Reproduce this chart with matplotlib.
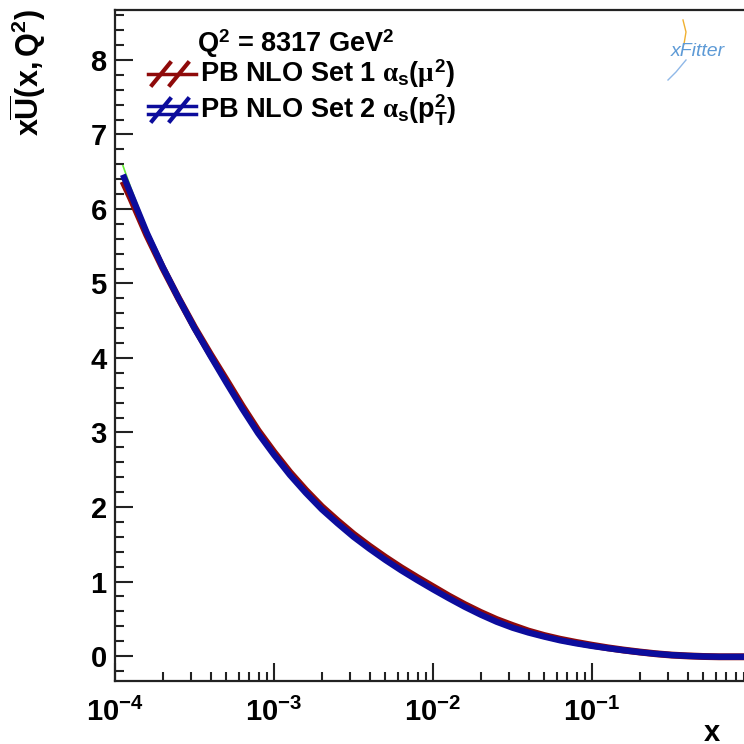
import matplotlib
matplotlib.use("Agg")
import matplotlib.pyplot as plt
from matplotlib.lines import Line2D
from matplotlib.ticker import FixedLocator, FixedFormatter, NullFormatter

plt.rcParams["font.family"] = ["Liberation Sans", "DejaVu Sans"]
plt.rcParams["font.weight"] = "bold"
plt.rcParams["mathtext.fontset"] = "custom"
plt.rcParams["mathtext.rm"] = "Liberation Sans:bold"
plt.rcParams["mathtext.bf"] = "Liberation Sans:bold"
plt.rcParams["mathtext.it"] = "Liberation Serif"

# ---------------------------------------------------------------------------
# data (log10 x, value)
# ---------------------------------------------------------------------------
log_x = [-3.95, -3.9, -3.8, -3.7, -3.6, -3.5, -3.4, -3.3, -3.2, -3.1, -3.0,
         -2.9, -2.8, -2.7, -2.6, -2.5, -2.4, -2.3, -2.2, -2.1, -2.0,
         -1.9, -1.8, -1.7, -1.6, -1.5, -1.4, -1.3, -1.2, -1.1, -1.0,
         -0.9, -0.8, -0.7, -0.6, -0.5, -0.4, -0.3, -0.2, -0.1, 0.0]
set2 = [6.46, 6.20, 5.68, 5.22, 4.80, 4.40, 4.03, 3.67, 3.32, 2.99, 2.70,
        2.43, 2.19, 1.97, 1.78, 1.60, 1.44, 1.29, 1.15, 1.02, 0.895,
        0.775, 0.66, 0.555, 0.46, 0.38, 0.315, 0.26, 0.21, 0.17, 0.135,
        0.105, 0.077, 0.052, 0.03, 0.013, 0.002, -0.006, -0.01, -0.01, -0.01]
set1 = [6.37, 6.14, 5.65, 5.21, 4.80, 4.41, 4.05, 3.705, 3.355, 3.025, 2.735,
        2.465, 2.225, 2.005, 1.815, 1.635, 1.475, 1.325, 1.185, 1.055, 0.93,
        0.805, 0.69, 0.585, 0.49, 0.41, 0.335, 0.275, 0.225, 0.183, 0.145,
        0.11, 0.08, 0.054, 0.031, 0.013, 0.002, -0.006, -0.01, -0.01, -0.01]
green = [6.58, 6.28, 5.73, 5.26, 4.83, 4.43, 4.05, 3.685, 3.33, 2.99, 2.70,
         2.43, 2.19, 1.97, 1.78, 1.60, 1.44, 1.29, 1.15, 1.02, 0.895,
         0.775, 0.66, 0.555, 0.46, 0.38, 0.315, 0.26, 0.21, 0.17, 0.135,
         0.105, 0.077, 0.052, 0.03, 0.013, 0.002, -0.006, -0.01, -0.01, -0.01]

x_major = [1e-4, 1e-3, 1e-2, 1e-1, 1.0]
x_labels = [r"$\mathrm{10^{-4}}$", r"$\mathrm{10^{-3}}$", r"$\mathrm{10^{-2}}$",
            r"$\mathrm{10^{-1}}$", r"$\mathrm{1}$"]
y_major = [0, 1, 2, 3, 4, 5, 6, 7, 8]

labels = [r"PB NLO Set 1 $\alpha_{\mathrm{s}}(\mu^{\mathrm{2}})$",
          r"PB NLO Set 2 $\alpha_{\mathrm{s}}(\mathrm{p_{T}^{2}})$"]
colors = ["#8f0a0a", "#0c0c9c"]

# ---------------------------------------------------------------------------
x = [10.0 ** v for v in log_x]

fig = plt.figure(figsize=(7.44, 7.44), dpi=100)
ax = fig.add_axes([115 / 744, 1 - 681 / 744, 636 / 744, 671 / 744])

ax.plot(x, green, color="#66ee33", lw=1.2, zorder=2)
ax.plot(x, set1, color=colors[0], lw=5, solid_capstyle="butt",
        solid_joinstyle="round", zorder=3)
ax.plot(x, set2, color=colors[1], lw=4.5, solid_capstyle="butt",
        solid_joinstyle="round", zorder=4)

ax.set_xscale("log")
ax.set_xlim(1e-4, 1.0)
ax.set_ylim(-0.335, 8.67)

minors = [m * 10.0 ** e for e in range(-4, 0) for m in range(2, 10)]
ax.xaxis.set_major_locator(FixedLocator(x_major))
ax.xaxis.set_major_formatter(FixedFormatter(x_labels))
ax.xaxis.set_minor_locator(FixedLocator(minors))
ax.xaxis.set_minor_formatter(NullFormatter())
ax.yaxis.set_major_locator(FixedLocator(y_major))
ax.yaxis.set_minor_locator(FixedLocator([i * 0.2 for i in range(-1, 44)]))

ax.tick_params(which="both", direction="in", top=False, right=False,
               width=1.5, colors="#222222", labelsize=21, labelcolor="black")
ax.tick_params(axis="x", which="major", length=13, pad=12)
ax.tick_params(axis="x", which="minor", length=6.5)
ax.tick_params(axis="y", which="major", length=13, pad=6)
ax.tick_params(axis="y", which="minor", length=6.5)
for s in ax.spines.values():
    s.set_linewidth(1.6)
    s.set_color("#222222")

fig.text(28 / 744, 1 - 72 / 744, r"$\mathrm{x\overline{U}(x,Q^{2})}$",
         rotation=90, ha="center", va="center", fontsize=22)
fig.text(712 / 744, 1 - 733 / 744, "x", ha="center", va="center", fontsize=21)

# header and legend
fig.text(197 / 744, 1 - 44 / 744, r"Q$^{\mathrm{2}}$ = 8317 GeV$^{\mathrm{2}}$",
         ha="left", va="center", fontsize=19.5)
rows_y = [74, 110]
for i, (lab, c) in enumerate(zip(labels, colors)):
    yc = 1 - rows_y[i] / 744
    fig.text(200 / 744, yc, lab, ha="left", va="center", fontsize=19.5)
    for x0 in (152, 170):
        fig.add_artist(Line2D([x0 / 744, (x0 + 18) / 744],
                              [yc - 11 / 744, yc + 11 / 744],
                              color=c, lw=3))
    offs = [0] if i == 0 else [-4, 4]
    for o in offs:
        fig.add_artist(Line2D([148 / 744, 196 / 744], [yc + o / 744, yc + o / 744],
                              color=c, lw=2.5))

# xFitter logo
fig.text(698 / 744, 1 - 52 / 744, "xFitter", ha="center", va="center",
         fontsize=14, style="italic", weight="normal", color="#5d9ad6")
fig.add_artist(Line2D([683 / 744, 686 / 744, 684 / 744],
                      [1 - 20 / 744, 1 - 32 / 744, 1 - 44 / 744],
                      color="#f0b030", lw=1))
fig.add_artist(Line2D([686 / 744, 676 / 744, 668 / 744],
                      [1 - 60 / 744, 1 - 72 / 744, 1 - 80 / 744],
                      color="#8fb8e8", lw=1))

fig.savefig("out.png", dpi=100)
